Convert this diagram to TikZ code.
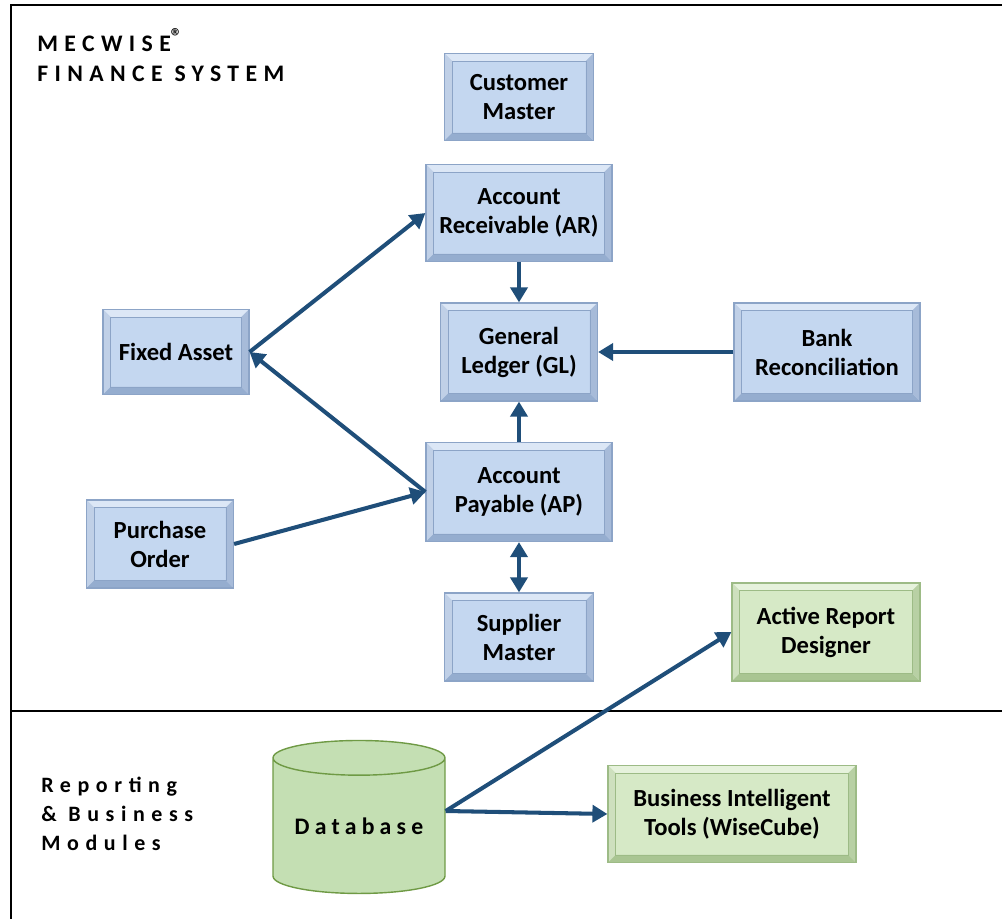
\documentclass[tikz,border=0pt]{standalone}
\usepackage{fontspec}
\setmainfont{Carlito}
\newfontfamily\spacedfont[LetterSpace=27]{Carlito}
\newfontfamily\widefont[LetterSpace=30]{Carlito}
\newfontfamily\dbfont[LetterSpace=22]{Carlito}
\usetikzlibrary{arrows.meta,shapes.geometric}

\definecolor{flowblue}{HTML}{1F4E79}
\definecolor{boxblue}{HTML}{C4D7F0}
\definecolor{blueLight}{HTML}{DCE7F6}
\definecolor{blueDark}{HTML}{95ADCF}
\definecolor{blueEdge}{HTML}{8CA4C7}
\definecolor{boxgreen}{HTML}{D6E9C6}
\definecolor{greenLight}{HTML}{E6F2DC}
\definecolor{greenDark}{HTML}{A9C592}
\definecolor{greenEdge}{HTML}{9DBB86}
\definecolor{dbgreen}{HTML}{C4DFB3}
\definecolor{dbedge}{HTML}{6F9A45}

% bevelled face of a module box
\newcommand{\bevel}[3]{%
  \coordinate (bsw) at (path picture bounding box.south west);
  \coordinate (bne) at (path picture bounding box.north east);
  \coordinate (bnw) at (path picture bounding box.north west);
  \coordinate (bse) at (path picture bounding box.south east);
  \coordinate (isw) at ([shift={(0.15cm,0.15cm)}]bsw);
  \coordinate (ine) at ([shift={(-0.15cm,-0.15cm)}]bne);
  \coordinate (inw) at ([shift={(0.15cm,-0.15cm)}]bnw);
  \coordinate (ise) at ([shift={(-0.15cm,0.15cm)}]bse);
  \fill[#1] (bnw) -- (bne) -- (ine) -- (inw) -- cycle;
  \fill[#1!60!#2] (bnw) -- (inw) -- (isw) -- (bsw) -- cycle;
  \fill[#2] (bsw) -- (isw) -- (ise) -- (bse) -- cycle;
  \fill[#2!75!#1] (bse) -- (ise) -- (ine) -- (bne) -- cycle;
  \draw[#3, line width=0.4pt] (isw) rectangle (ine);
}

\begin{document}
\begin{tikzpicture}[x=0.02cm, y=-0.02cm,
  bevelbox/.style n args={4}{draw=#4, line width=0.7pt, fill=#1, align=center,
    inner sep=0pt, font=\bfseries\fontsize{14}{16.5}\selectfont,
    path picture={\bevel{#2}{#3}{#4}}},
  bluebox/.style={bevelbox={boxblue}{blueLight}{blueDark}{blueEdge}},
  greenbox/.style={bevelbox={boxgreen}{greenLight}{greenDark}{greenEdge}},
  flow/.style={draw=flowblue, line width=2.3pt, -{Triangle[length=0.3cm,width=0.34cm]}}]

\useasboundingbox (0,0) rectangle (1002,919);

  % frame
  \draw[line width=1.2pt] (1002,5) -- (11,5) -- (11,919);
  \draw[line width=1.2pt] (11,711) -- (1002,711);

  % section titles
  \node[anchor=north west, align=left, inner sep=0pt,
    font=\spacedfont\bfseries\fontsize{13.5}{17}\selectfont] (fintitle) at (37,28)
    {MECWISE\raisebox{0.3em}{\fontsize{13}{13}\selectfont\textregistered}\\FINANCE SYSTEM};
  \node[anchor=west, align=left, inner sep=0pt,
    font=\widefont\bfseries\fontsize{12.5}{16.5}\selectfont] (reptitle) at (41,814)
    {Reporting\\\& Business\\Modules};

  % finance modules
  \node[bluebox, minimum width=2.98cm, minimum height=1.74cm] (cust) at (519,97) {Customer\\Master};
  \node[bluebox, minimum width=3.72cm, minimum height=1.94cm] (ar) at (519,213) {Account\\Receivable (AR)};
  \node[bluebox, minimum width=3.14cm, minimum height=1.96cm] (gl) at (519,352) {General\\Ledger (GL)};
  \node[bluebox, minimum width=3.72cm, minimum height=1.96cm] (bank) at (827,352) {Bank\\Reconciliation};
  \node[bluebox, minimum width=2.92cm, minimum height=1.70cm] (fa) at (176,352) {Fixed Asset};
  \node[bluebox, minimum width=3.72cm, minimum height=1.98cm] (ap) at (519,492) {Account\\Payable (AP)};
  \node[bluebox, minimum width=2.94cm, minimum height=1.76cm] (po) at (160,544) {Purchase\\Order};
  \node[bluebox, minimum width=2.98cm, minimum height=1.76cm] (supp) at (519,637) {Supplier\\Master};

  % reporting modules
  \node[greenbox, minimum width=3.76cm, minimum height=1.96cm] (ard) at (826,632) {Active Report\\Designer};
  \node[greenbox, minimum width=4.96cm, minimum height=1.94cm] (bi) at (732,814) {Business Intelligent\\Tools (WiseCube)};
  \node[cylinder, shape border rotate=90, aspect=0.27, draw=dbedge, line width=0.8pt,
    fill=dbgreen, minimum width=3.44cm, minimum height=3.06cm, inner sep=0pt,
    font=\dbfont\bfseries\fontsize{13.5}{16}\selectfont] (db) at (359,826) {Database};

  % connectors
  \draw[flow] (ar) -- (gl);
  \draw[flow] (ap) -- (gl);
  \draw[flow] (bank) -- (gl);
  \draw[flow] (fa.east) -- (ar.west);
  \draw[flow] (ap.west) -- (fa.east);
  \draw[flow] (po.east) -- (ap.west);
  \draw[flow, {Triangle[length=0.3cm,width=0.34cm]}-{Triangle[length=0.3cm,width=0.34cm]}] (ap) -- (supp);
  \draw[flow] ([yshift=0.3cm]db.east) -- (ard.west);
  \draw[flow] ([yshift=0.3cm]db.east) -- (bi.west);

\end{tikzpicture}
\end{document}
